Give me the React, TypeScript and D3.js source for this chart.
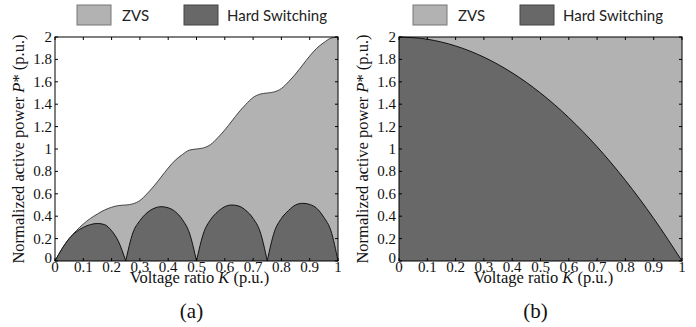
import React from 'react';
import * as d3 from 'd3';

// Voltage ratio K grid (p.u.)
const kValues = [
  0, 0.025, 0.05, 0.075, 0.1, 0.125, 0.15, 0.175, 0.2, 0.225,
  0.25, 0.275, 0.3, 0.325, 0.35, 0.375, 0.4, 0.425, 0.45, 0.475,
  0.5, 0.525, 0.55, 0.575, 0.6, 0.625, 0.65, 0.675, 0.7, 0.725,
  0.75, 0.775, 0.8, 0.825, 0.85, 0.875, 0.9, 0.925, 0.95, 0.975, 1,
];
// (a) upper boundary of the ZVS region
const zvsUpperA = [
  0, 0.11, 0.2, 0.27, 0.33, 0.38, 0.42, 0.455, 0.48, 0.495,
  0.5, 0.51, 0.54, 0.6, 0.67, 0.75, 0.83, 0.9, 0.95, 0.99,
  1.0, 1.01, 1.04, 1.1, 1.17, 1.25, 1.33, 1.4, 1.46, 1.49,
  1.5, 1.51, 1.54, 1.6, 1.67, 1.75, 1.83, 1.9, 1.95, 1.99, 2.0,
];
// (a) hard-switching humps
const hardA = [
  0, 0.11, 0.2, 0.26, 0.3, 0.325, 0.335, 0.325, 0.27, 0.17,
  0, 0.25, 0.36, 0.43, 0.47, 0.485, 0.475, 0.44, 0.37, 0.25,
  0, 0.25, 0.37, 0.44, 0.485, 0.5, 0.49, 0.45, 0.38, 0.26,
  0, 0.26, 0.38, 0.45, 0.5, 0.515, 0.505, 0.47, 0.39, 0.27, 0,
];
// (b) boundary between hard switching (below) and ZVS (above)
const kValuesB = [0, 0.1, 0.2, 0.3, 0.4, 0.5, 0.6, 0.7, 0.8, 0.9, 1];
const boundaryB = [2, 1.98, 1.92, 1.82, 1.68, 1.5, 1.28, 1.02, 0.72, 0.38, 0];

const xTicks = [0, 0.1, 0.2, 0.3, 0.4, 0.5, 0.6, 0.7, 0.8, 0.9, 1];
const yTicks = [0, 0.2, 0.4, 0.6, 0.8, 1, 1.2, 1.4, 1.6, 1.8, 2];
const legendLabels = ['ZVS', 'Hard Switching'];
const panelLabels = ['(a)', '(b)'];

const LIGHT = '#b2b2b2';
const DARK = '#686868';

type PanelProps = { left: number; right: number; legendX: number; kind: 'a' | 'b'; label: string };

function Panel({ left, right, legendX, kind, label }: PanelProps) {
  const top = 37;
  const bottom = 261;
  const x = d3.scaleLinear().domain([0, 1]).range([left, right]);
  const y = d3.scaleLinear().domain([0, 2]).range([bottom, top]);
  const cx = (left + right) / 2;

  const area = d3
    .area<[number, number]>()
    .x((d) => x(d[0]))
    .y0(y(0))
    .y1((d) => y(d[1]))
    .curve(d3.curveMonotoneX);
  const line = d3
    .line<[number, number]>()
    .x((d) => x(d[0]))
    .y((d) => y(d[1]))
    .curve(d3.curveMonotoneX);

  const content: React.ReactNode[] = [];
  if (kind === 'a') {
    const upper = kValues.map((k, i) => [k, zvsUpperA[i]] as [number, number]);
    content.push(<path key="zvs" d={area(upper) || ''} fill={LIGHT} />);
    content.push(<path key="zvsl" d={line(upper) || ''} fill="none" stroke="#333" strokeWidth={0.9} />);
    const segs: [number, number][][] = [];
    let cur: [number, number][] = [];
    kValues.forEach((k, i) => {
      cur.push([k, hardA[i]]);
      if (hardA[i] === 0 && cur.length > 1) {
        segs.push(cur);
        cur = [[k, 0]];
      }
    });
    segs.forEach((s, j) => {
      content.push(<path key={'h' + j} d={area(s) || ''} fill={DARK} />);
      content.push(<path key={'hl' + j} d={line(s) || ''} fill="none" stroke="#111" strokeWidth={1} />);
    });
  } else {
    const b = kValuesB.map((k, i) => [k, boundaryB[i]] as [number, number]);
    content.push(<rect key="bg" x={left} y={top} width={right - left} height={bottom - top} fill={LIGHT} />);
    content.push(<path key="hs" d={area(b) || ''} fill={DARK} />);
    content.push(<path key="hsl" d={line(b) || ''} fill="none" stroke="#111" strokeWidth={1} />);
  }

  return (
    <g>
      <g fontFamily="Lato" fontSize={15} fill="#222">
        <rect x={legendX} y={5} width={34} height={20} fill={LIGHT} stroke="#777" strokeWidth={1} />
        <text x={legendX + 45} y={21}>{legendLabels[0]}</text>
        <rect x={legendX + 107} y={5} width={34} height={20} fill={DARK} stroke="#444" strokeWidth={1} />
        <text x={legendX + 150} y={21}>{legendLabels[1]}</text>
      </g>

      <rect x={left} y={top} width={right - left} height={bottom - top} fill="#fff" />
      {content}
      <rect x={left} y={top} width={right - left} height={bottom - top} fill="none" stroke="#000" strokeWidth={1} />
      <g fontFamily="Liberation Serif" fill="#111">
        {xTicks.map((t) => (
          <g key={'xt' + t}>
            <line x1={x(t)} x2={x(t)} y1={bottom} y2={bottom - 3} stroke="#000" />
            <line x1={x(t)} x2={x(t)} y1={top} y2={top + 3} stroke="#000" />
            <text x={x(t)} y={272} textAnchor="middle" fontSize={15}>{String(t)}</text>
          </g>
        ))}
        {yTicks.map((t) => (
          <g key={'yt' + t}>
            <line x1={left} x2={left + 3} y1={y(t)} y2={y(t)} stroke="#000" />
            <line x1={right} x2={right - 3} y1={y(t)} y2={y(t)} stroke="#000" />
            <text x={left - 3} y={y(t) + (t === 0 ? 2 : 5)} textAnchor="end" fontSize={15}>{String(t)}</text>
          </g>
        ))}
        <text x={cx + 3} y={283} textAnchor="middle" fontSize={16.5}>
          Voltage ratio <tspan fontStyle="italic">K</tspan> (p.u.)
        </text>
        <text x={cx - 5} y={318} textAnchor="middle" fontSize={21}>{label}</text>
        <text
          transform={`translate(${left - 31},${(top + bottom) / 2}) rotate(-90)`}
          textAnchor="middle"
          fontSize={16.5}
        >
          Normalized active power <tspan fontStyle="italic">P</tspan>* (p.u.)
        </text>
      </g>
    </g>
  );
}

export default function App() {
  return (
    <svg width={696} height={327} fontFamily="Liberation Serif" style={{ display: 'block', position: 'absolute', left: 0, top: 0, background: '#fff' }}>
      <rect width={696} height={327} fill="#fff" />
      <Panel left={55} right={338} legendX={77} kind="a" label={panelLabels[0]} />
      <Panel left={399} right={682} legendX={413} kind="b" label={panelLabels[1]} />
    </svg>
  );
}
